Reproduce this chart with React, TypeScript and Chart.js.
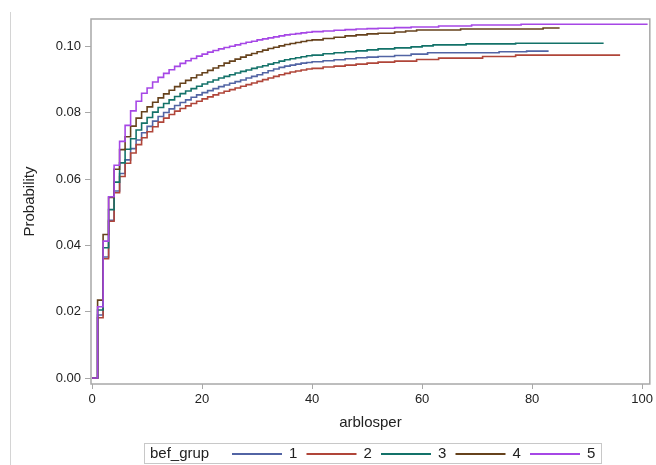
import React, { useEffect, useRef } from 'react';
import { Chart, registerables } from 'chart.js';

Chart.register(...registerables);

// ---- data ----
const groupLabels = ['1', '2', '3', '4', '5'];
const groupColors = ['#5264a4', '#b04539', '#137269', '#66421c', '#a647e6'];
const legendTitle = 'bef_grup';
const xTitle = 'arblosper';
const yTitle = 'Probability';

const stepX = [0, 1, 2, 3, 4, 5, 6, 7, 8, 9, 10, 11, 12, 13, 14, 15, 16, 17, 18, 19, 20,
  21, 22, 23, 24, 25, 26, 27, 28, 29, 30, 31, 32, 33, 34, 35, 36, 37, 38, 39, 40];

const prob1 = [0, 0.0190, 0.0365, 0.0476, 0.0564, 0.0617, 0.0658, 0.0692, 0.0718, 0.0740, 0.0759,
  0.0775, 0.0789, 0.0801, 0.0812, 0.0822, 0.0831, 0.0839, 0.0847, 0.0854, 0.0861,
  0.0867, 0.0873, 0.0879, 0.0884, 0.0889, 0.0894, 0.0899, 0.0905, 0.0910, 0.0915,
  0.0921, 0.0927, 0.0932, 0.0937, 0.0941, 0.0944, 0.0947, 0.0950, 0.0952, 0.0954];
const tailX1 = [42, 44, 46, 48, 50, 52, 55, 58, 61, 74, 79, 83];
const tail1 = [0.0957, 0.0960, 0.0963, 0.0966, 0.0968, 0.0970, 0.0973, 0.0977, 0.0981, 0.0984, 0.0986, 0.0986];

const prob2 = [0, 0.0182, 0.0360, 0.0473, 0.0559, 0.0608, 0.0648, 0.0679, 0.0704, 0.0725, 0.0743,
  0.0758, 0.0772, 0.0784, 0.0795, 0.0805, 0.0813, 0.0821, 0.0828, 0.0835, 0.0842,
  0.0848, 0.0854, 0.0860, 0.0865, 0.0870, 0.0875, 0.0880, 0.0885, 0.0890, 0.0895,
  0.0900, 0.0905, 0.0910, 0.0915, 0.0919, 0.0923, 0.0926, 0.0929, 0.0932, 0.0934];
const tailX2 = [42, 44, 46, 48, 50, 52, 55, 59, 63, 71, 77, 96];
const tail2 = [0.0938, 0.0941, 0.0944, 0.0947, 0.0950, 0.0953, 0.0956, 0.0961, 0.0965, 0.0970, 0.0974, 0.0974];

const prob3 = [0, 0.0205, 0.0393, 0.0508, 0.0591, 0.0649, 0.0690, 0.0722, 0.0748, 0.0769, 0.0786,
  0.0802, 0.0816, 0.0828, 0.0839, 0.0849, 0.0858, 0.0866, 0.0873, 0.0880, 0.0887,
  0.0893, 0.0899, 0.0905, 0.0910, 0.0915, 0.0920, 0.0925, 0.0929, 0.0934, 0.0938,
  0.0942, 0.0947, 0.0951, 0.0956, 0.0960, 0.0963, 0.0966, 0.0969, 0.0972, 0.0974];
const tailX3 = [42, 44, 46, 48, 50, 52, 55, 58, 60, 62, 68, 77, 93];
const tail3 = [0.0978, 0.0981, 0.0984, 0.0987, 0.0990, 0.0993, 0.0996, 0.0999, 0.1002, 0.1005, 0.1008, 0.1010, 0.1010];

const prob4 = [0, 0.0235, 0.0433, 0.0545, 0.0630, 0.0689, 0.0728, 0.0760, 0.0784, 0.0803, 0.0818,
  0.0832, 0.0845, 0.0857, 0.0868, 0.0879, 0.0889, 0.0898, 0.0906, 0.0914, 0.0921,
  0.0928, 0.0935, 0.0942, 0.0950, 0.0956, 0.0962, 0.0968, 0.0974, 0.0979, 0.0984,
  0.0989, 0.0994, 0.0998, 0.1002, 0.1006, 0.1009, 0.1012, 0.1015, 0.1018, 0.1020];
const tailX4 = [42, 44, 46, 48, 50, 52, 55, 57, 59, 67, 82, 85];
const tail4 = [0.1024, 0.1028, 0.1032, 0.1035, 0.1038, 0.1040, 0.1044, 0.1047, 0.1050, 0.1053, 0.1056, 0.1056];

const prob5 = [0, 0.0215, 0.0413, 0.0547, 0.0642, 0.0714, 0.0762, 0.0806, 0.0835, 0.0859, 0.0875,
  0.0893, 0.0907, 0.0919, 0.0930, 0.0940, 0.0949, 0.0957, 0.0964, 0.0971, 0.0977,
  0.0983, 0.0988, 0.0993, 0.0997, 0.1001, 0.1005, 0.1009, 0.1013, 0.1016, 0.1020,
  0.1023, 0.1026, 0.1029, 0.1032, 0.1035, 0.1037, 0.1039, 0.1041, 0.1043, 0.1045];
const tailX5 = [42, 44, 46, 48, 50, 52, 55, 58, 63, 69, 78, 101];
const tail5 = [0.1047, 0.1049, 0.1051, 0.1053, 0.1054, 0.1055, 0.1057, 0.1059, 0.1062, 0.1065, 0.1067, 0.1067];

const seriesProb = [prob1, prob2, prob3, prob4, prob5];
const seriesTailX = [tailX1, tailX2, tailX3, tailX4, tailX5];
const seriesTail = [tail1, tail2, tail3, tail4, tail5];

const FONT = '"Liberation Sans", Arial, sans-serif';

function buildPoints(i: number) {
  const pts = stepX.map((x, k) => ({ x, y: seriesProb[i][k] }));
  seriesTailX[i].forEach((x, k) => pts.push({ x, y: seriesTail[i][k] }));
  return pts;
}

const framePlugin = {
  id: 'sasFrame',
  afterDraw(chart: any) {
    const { ctx, chartArea } = chart;
    ctx.save();
    // page border line
    ctx.strokeStyle = '#d4d4d4';
    ctx.lineWidth = 1;
    ctx.beginPath();
    ctx.moveTo(10.5, 12);
    ctx.lineTo(10.5, 465);
    ctx.stroke();
    // plot frame
    ctx.strokeStyle = '#a8a8a8';
    ctx.lineWidth = 1.5;
    ctx.strokeRect(chartArea.left, chartArea.top, chartArea.right - chartArea.left, chartArea.bottom - chartArea.top);
    // legend
    const lx = 144.5, ly = 443.5, lw = 457, lh = 20;
    ctx.strokeStyle = '#c8c8c8';
    ctx.lineWidth = 1;
    ctx.strokeRect(lx, ly, lw, lh);
    ctx.font = '15px ' + FONT;
    ctx.fillStyle = '#222';
    ctx.textBaseline = 'middle';
    ctx.textAlign = 'left';
    const cy = 454;
    ctx.fillText(legendTitle, 150, cy);
    chart.data.datasets.forEach((ds: any, i: number) => {
      const x0 = 232 + i * 74.5;
      ctx.strokeStyle = ds.borderColor;
      ctx.lineWidth = 2;
      ctx.beginPath();
      ctx.moveTo(x0, cy);
      ctx.lineTo(x0 + 50, cy);
      ctx.stroke();
      ctx.fillStyle = '#222';
      ctx.fillText(ds.label, x0 + 57, cy);
    });
    ctx.restore();
  },
};

export default function App() {
  const ref = useRef<HTMLCanvasElement>(null);
  useEffect(() => {
    if (!ref.current) return;
    const chart = new Chart(ref.current, {
      type: 'line',
      data: {
        datasets: groupLabels.map((g, i) => ({
          label: g,
          data: buildPoints(i),
          borderColor: groupColors[i],
          backgroundColor: groupColors[i],
          borderWidth: 1.6,
          stepped: true,
          pointRadius: 0,
          fill: false,
          order: 5 - i,
        })),
      },
      options: {
        responsive: false,
        animation: false,
        devicePixelRatio: 1,
        layout: { padding: { top: 19, right: 3, bottom: 0, left: 0 } },
        plugins: {
          legend: { display: false },
          tooltip: { enabled: false },
        },
        scales: {
          x: {
            type: 'linear',
            min: -0.2,
            max: 101.4,
            afterFit: (s: any) => { s.height = 81; },
            ticks: {
              stepSize: 20,
              includeBounds: false,
              maxRotation: 0,
              padding: 3,
              color: '#222',
              font: { size: 13, family: FONT },
              callback: (v: any) => String(v),
            },
            grid: { drawOnChartArea: false, drawTicks: true, tickLength: 5, color: '#a8a8a8' },
            border: { display: false },
            title: {
              display: true,
              text: xTitle,
              color: '#222',
              font: { size: 15, family: FONT },
              padding: { top: 0, bottom: 33 },
            },
          },
          y: {
            type: 'linear',
            min: -0.0018,
            max: 0.1083,
            afterFit: (s: any) => { s.width = 91; },
            ticks: {
              stepSize: 0.02,
              includeBounds: false,
              padding: 4,
              color: '#222',
              font: { size: 13, family: FONT },
              callback: (v: any) => Number(v).toFixed(2),
            },
            grid: { drawOnChartArea: false, drawTicks: true, tickLength: 6, color: '#a8a8a8' },
            border: { display: false },
            title: {
              display: true,
              text: yTitle,
              color: '#222',
              font: { size: 15, family: FONT },
              padding: { top: 21, bottom: 0 },
            },
          },
        },
      },
      plugins: [framePlugin],
    } as any);
    return () => chart.destroy();
  }, []);
  return (
    <div style={{ position: 'fixed', left: 0, top: 0, width: 656, height: 465, background: '#fff' }}>
      <canvas ref={ref} width={656} height={465} style={{ width: 656, height: 465, display: 'block' }} />
    </div>
  );
}
